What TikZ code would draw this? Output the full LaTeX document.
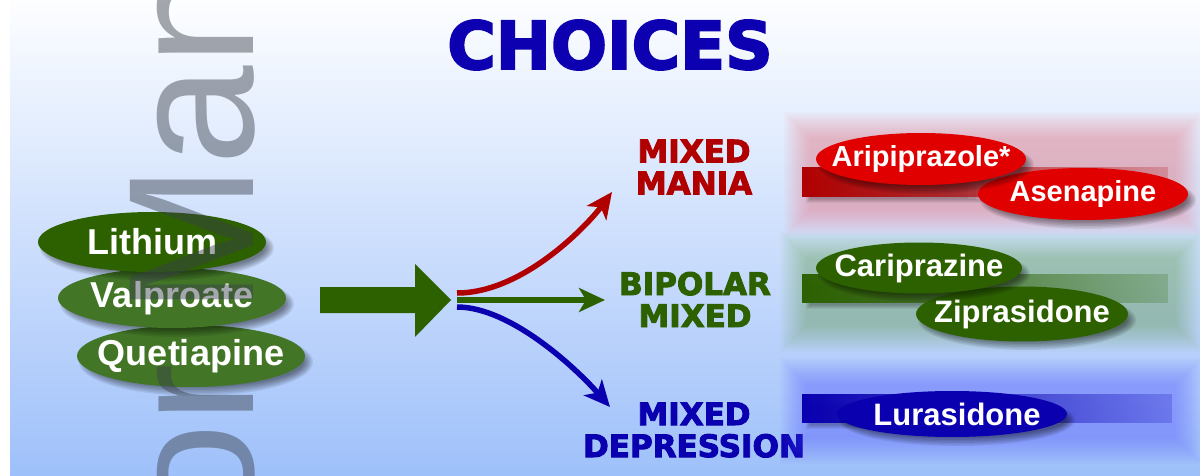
\documentclass[tikz,border=0pt]{standalone}
\usepackage{fontspec}
\setmainfont{Liberation Sans}
\newfontfamily\headfont{DejaVu Sans Bold}[FakeBold=3]
\usetikzlibrary{shapes.geometric,arrows.meta,fadings}

\definecolor{bgtop}{RGB}{253,254,255}
\definecolor{bgmid}{RGB}{214,228,252}
\definecolor{bgbot}{RGB}{158,192,250}
\definecolor{titleblue}{RGB}{12,0,176}
\definecolor{darkred}{RGB}{176,0,0}
\definecolor{leafgreen}{RGB}{45,97,0}
\definecolor{softgreen}{RGB}{66,118,38}
\definecolor{brightred}{RGB}{225,0,0}
\definecolor{deepblue}{RGB}{10,0,176}
\definecolor{markgray}{RGB}{58,64,75}
\definecolor{glowred}{RGB}{255,80,90}
\definecolor{glowgreen}{RGB}{80,150,40}
\definecolor{glowblue}{RGB}{80,80,255}

\tikzfading[name=barfade, left color=transparent!0, middle color=transparent!55, right color=transparent!80]

% layered rectangle with a fuzzy edge: colour, layer opacity, x1, y1, x2, y2
\newcommand\softbox[6]{%
  \foreach \k in {0,...,13}{\fill[#1, opacity=#2] ({#3+\k*2},{#4+\k*2}) rectangle ({#5-\k*2},{#6-\k*2});}}
% soft shadow under an oval: centre x, centre y, x radius, y radius
\newcommand\softoval[4]{%
  \foreach \s in {0,...,6}{\fill[black, opacity=0.08] ({#1+5},{#2+6}) ellipse [x radius={#3+3-\s*1.5}, y radius={#4+3-\s*1.5}];}}

\tikzset{
  leftdrug/.style={ellipse, inner sep=0, text=white, font=\bfseries\fontsize{36}{36}\selectfont},
  rightdrug/.style={ellipse, inner sep=0, text=white, font=\bfseries\fontsize{31}{31}\selectfont},
  heading/.style={inner sep=0, align=center, font=\headfont\fontsize{31}{32}\selectfont},
  branch/.style={line width=5.5pt, -{Stealth[length=26pt, width=24pt, inset=7pt]}},
}

\begin{document}
\begin{tikzpicture}[x=1pt, y=-1pt]
\useasboundingbox (0,0) rectangle (1200,476);
\clip (0,0) rectangle (1200,476);

% background
\fill[white] (0,0) rectangle (1200,476);
\shade[top color=bgtop, middle color=bgmid, bottom color=bgbot] (10,0) rectangle (1200,476);

% title
\node[anchor=base, inner sep=0, text=titleblue, font=\headfont\fontsize{66}{66}\selectfont] (title) at (610,69) {CHOICES};

% first-line drugs
\softoval{191}{356}{114}{31}
\node[leftdrug, fill=softgreen, minimum width=228pt, minimum height=62pt] (quetiapine) at (191,356) {\makebox[0pt]{Quetiapine}};
\softoval{172}{298}{114}{30}
\node[leftdrug, fill=softgreen, minimum width=228pt, minimum height=60pt] (valproate) at (172,298) {\makebox[0pt]{Valproate}};
\softoval{152}{242}{114}{30}
\node[leftdrug, fill=leafgreen, minimum width=228pt, minimum height=60pt] (lithium) at (152,242) {\makebox[0pt]{Lithium}};

% big arrow into the fork
\coordinate (fork) at (457,300);
\fill[leafgreen] (320,287) -- (415,287) -- (415,264) -- (451,300) -- (415,337) -- (415,313) -- (320,313) -- cycle;

% branches
\coordinate (forkR) at (457,293);
\coordinate (forkB) at (457,307);
\coordinate (maniaEnd) at (612,192);
\coordinate (mixedEnd) at (605,300);
\coordinate (deprEnd) at (610,407);
\draw[branch, darkred] (forkR) .. controls (525,293) and (590,222) .. (maniaEnd);
\draw[branch, deepblue] (forkB) .. controls (510,307) and (575,367) .. (deprEnd);
\draw[branch, leafgreen] (fork) -- (mixedEnd);

% state headings
\node[heading, text=darkred] (mania) at (694,167) {MIXED\\MANIA};
\node[heading, text=leafgreen] (bipolar) at (695,299.5) {BIPOLAR\\MIXED};
\node[heading, text=deepblue] (depression) at (694,430) {MIXED\\DEPRESSION};

% coloured haze behind each group
\softbox{glowred}{0.028}{784}{112}{1202}{236}
\softbox{glowgreen}{0.028}{780}{232}{1202}{352}
\softbox{glowblue}{0.033}{780}{358}{1202}{464}

% bars
\foreach \ya/\yb in {167/197, 274/303, 394/423}{
  \foreach \s in {0,...,4}{\fill[black, opacity=0.06] ({806+\s},{\ya+8+\s}) rectangle ({1000-\s*8},{\yb+6-\s});}
}
\fill[darkred, path fading=barfade] (802,167) rectangle (1168,197);
\fill[leafgreen, path fading=barfade] (802,274) rectangle (1168,303);
\fill[deepblue, path fading=barfade] (802,394) rectangle (1172,423);

% mixed mania options
\softoval{1083}{194}{105}{26}
\node[rightdrug, fill=brightred, minimum width=210pt, minimum height=52pt, font=\bfseries\fontsize{29}{29}\selectfont] (asenapine) at (1083,194) {\makebox[0pt]{Asenapine}};
\softoval{921}{159}{105}{26}
\node[rightdrug, fill=brightred, minimum width=210pt, minimum height=52pt, font=\bfseries\fontsize{29}{29}\selectfont] (aripiprazole) at (921,159) {\makebox[0pt]{Aripiprazole*}};

% bipolar mixed options
\softoval{1022}{314}{106}{27}
\node[rightdrug, fill=leafgreen, minimum width=212pt, minimum height=55pt] (ziprasidone) at (1022,314) {\makebox[0pt]{Ziprasidone}};
\softoval{919}{268}{103}{25}
\node[rightdrug, fill=leafgreen, minimum width=206pt, minimum height=51pt] (cariprazine) at (919,268) {\makebox[0pt]{Cariprazine}};

% mixed depression option
\softoval{952}{414}{115}{23}
\node[rightdrug, fill=deepblue, minimum width=230pt, minimum height=46pt] (lurasidone) at (952,414) {\makebox[0pt]{\hspace*{10pt}Lurasidone}};

% translucent lettering running up the left side
\node[rotate=90, anchor=base west, inner sep=0, text=markgray, opacity=0.46, font=\fontsize{179}{179}\selectfont] (mark) at (253,523.5) {or Man};
\end{tikzpicture}
\end{document}
